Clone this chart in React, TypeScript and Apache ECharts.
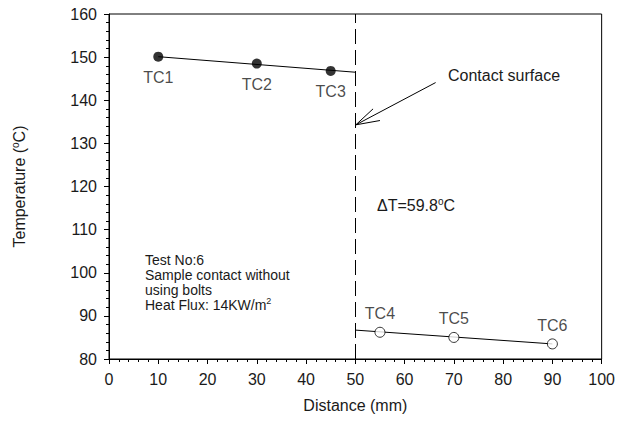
import React, { useEffect, useRef } from "react";
import * as echarts from "echarts";

// Thermocouple positions (mm) and readings (°C) on either side of the contact surface
const distanceUpper = [10, 30, 45];
const tempUpper = [150.1, 148.5, 146.8];
const labelsUpper = ["TC1", "TC2", "TC3"];

const distanceLower = [55, 70, 90];
const tempLower = [86.2, 85.0, 83.5];
const labelsLower = ["TC4", "TC5", "TC6"];

// Linear fits extrapolated to the interface
const fitUpper = [
  [10, 150.1],
  [50, 146.5],
];
const fitLower = [
  [50, 86.7],
  [90, 83.5],
];

const contactX = 50;

// Pointer from the "Contact surface" note to the interface
const arrowShaft = [
  [66.3, 144.1],
  [50.1, 134.3],
];
const arrowHead = [
  [53.6, 138.0],
  [50.1, 134.3],
  [55.0, 135.3],
];

const X_RANGE = [0, 100];
const Y_RANGE = [80, 160];

const FONT = "'Liberation Sans', Arial, sans-serif";
const INK = "#1a1a1a";

export default function App() {
  const ref = useRef<HTMLDivElement>(null);

  useEffect(() => {
    if (!ref.current) return;
    const chart = echarts.init(ref.current, null, { renderer: "svg" });

    const axisBase = {
      axisLine: { show: true, lineStyle: { color: "#000", width: 1 } },
      axisTick: { show: true, inside: false, length: 5, lineStyle: { color: "#000", width: 1 } },
      minorTick: { show: true, splitNumber: 5, length: 3, lineStyle: { color: "#000", width: 1 } },
      splitLine: { show: false },
    };

    const sup = { fontSize: 10, fontFamily: FONT, color: INK, padding: [0, 0, 9, 0] };

    chart.setOption({
      animation: false,
      backgroundColor: "#fff",
      textStyle: { fontFamily: FONT },
      grid: {
        left: 109,
        top: 14,
        width: 494,
        height: 345,
        show: true,
        borderColor: "#000",
        borderWidth: 1,
        backgroundColor: "transparent",
      },
      xAxis: {
        type: "value",
        min: X_RANGE[0],
        max: X_RANGE[1],
        interval: 10,
        ...axisBase,
        axisLabel: { color: INK, fontSize: 16, fontFamily: FONT, margin: 12 },
        name: "Distance (mm)",
        nameLocation: "middle",
        nameGap: 38,
        nameTextStyle: { color: INK, fontSize: 16, fontFamily: FONT },
      },
      yAxis: {
        type: "value",
        min: Y_RANGE[0],
        max: Y_RANGE[1],
        interval: 10,
        ...axisBase,
        axisLabel: { color: INK, fontSize: 16, fontFamily: FONT, margin: 12 },
        name: "Temperature ({sup|o}C)",
        nameLocation: "middle",
        nameGap: 80,
        nameTextStyle: {
          color: INK,
          fontSize: 16,
          fontFamily: FONT,
          rich: { sup },
        },
      },
      series: [
        {
          type: "line",
          data: fitUpper,
          symbol: "none",
          lineStyle: { color: "#000", width: 1 },
          silent: true,
          z: 2,
          markLine: {
            silent: true,
            symbol: "none",
            label: { show: false },
            lineStyle: { color: "#000", width: 1, type: [15, 6] },
            data: [{ xAxis: contactX }],
          },
        },
        {
          type: "line",
          data: fitLower,
          symbol: "none",
          lineStyle: { color: "#000", width: 1 },
          silent: true,
          z: 2,
        },
        {
          type: "line",
          data: arrowShaft,
          symbol: "none",
          lineStyle: { color: "#000", width: 1 },
          silent: true,
        },
        {
          type: "line",
          data: arrowHead,
          symbol: "none",
          lineStyle: { color: "#000", width: 1 },
          silent: true,
        },
        {
          type: "scatter",
          data: distanceUpper.map((d, i) => [d, tempUpper[i], labelsUpper[i]]),
          symbol: "circle",
          symbolSize: 10,
          itemStyle: { color: "#000" },
          z: 3,
          label: {
            show: true,
            position: "bottom",
            distance: 8,
            formatter: (p: any) => p.value[2],
            color: INK,
            fontSize: 16,
            fontFamily: FONT,
          },
        },
        {
          type: "scatter",
          data: distanceLower.map((d, i) => [d, tempLower[i], labelsLower[i]]),
          symbol: "circle",
          symbolSize: 10,
          itemStyle: { color: "#fff", borderColor: "#000", borderWidth: 1 },
          z: 3,
          label: {
            show: true,
            position: "top",
            distance: 5,
            formatter: (p: any) => p.value[2],
            color: INK,
            fontSize: 16,
            fontFamily: FONT,
          },
        },
      ],
      graphic: [
        {
          type: "text",
          left: 448,
          top: 67,
          style: { text: "Contact surface", fill: INK, font: `16px ${FONT}` },
        },
        {
          type: "text",
          left: 377,
          top: 196,
          style: {
            text: "ΔT=59.8{sup|o}C",
            fill: INK,
            fontSize: 16,
            fontFamily: FONT,
            rich: { sup: { ...sup, fill: INK } },
          },
        },
        {
          type: "text",
          left: 145,
          top: 252,
          style: {
            text: "Test No:6\nSample contact without\nusing bolts\nHeat Flux: 14KW/m{sup|2}",
            fill: INK,
            fontSize: 14,
            fontFamily: FONT,
            lineHeight: 15,
            rich: { sup: { fontSize: 9, fontFamily: FONT, fill: INK, padding: [0, 0, 8, 0] } },
          },
        },
      ],
    });

    return () => chart.dispose();
  }, []);

  return (
    <div
      ref={ref}
      style={{ position: "absolute", left: 0, top: 0, width: 618, height: 423 }}
    />
  );
}
